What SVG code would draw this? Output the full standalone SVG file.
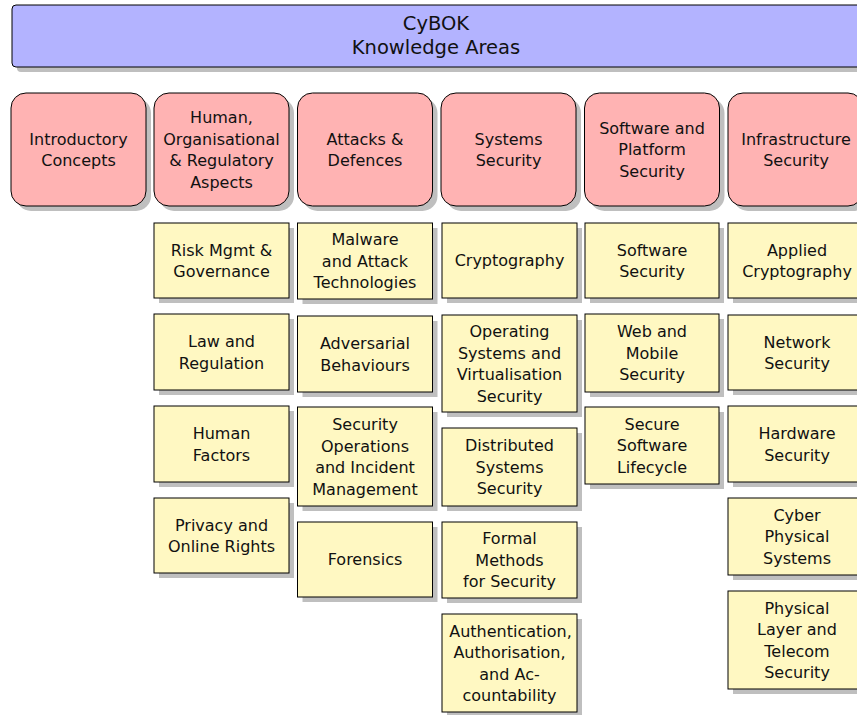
<svg xmlns="http://www.w3.org/2000/svg" width="857" height="715" viewBox="0 0 857 715">
<style>
  .shadow { fill: #bfbfbf; }
  .hdr { fill: #b3b3ff; stroke: #000; stroke-width: 1; }
  .ka { fill: #ffb3b3; stroke: #000; stroke-width: 1; }
  .sub { fill: #fff8c2; stroke: #000; stroke-width: 1; }
  text { font-family: "DejaVu Sans", "Liberation Sans", sans-serif; font-size: 16px; fill: #111; text-anchor: middle; }
  .ht { font-size: 19.5px; }
</style>
<rect width="857" height="715" fill="#fff"/>

<g id="header">
  <rect class="shadow" x="17" y="10" width="849" height="62" rx="4"/>
  <rect class="hdr" x="12" y="5" width="849" height="62" rx="4"/>
  <text class="ht" x="436" y="29.5">CyBOK</text>
  <text class="ht" x="436" y="53.5">Knowledge Areas</text>
</g>

<g id="ka-introductory">
  <rect class="shadow" x="16" y="98" width="135" height="113" rx="15"/>
  <rect class="ka" x="11" y="93" width="135" height="113" rx="15"/>
  <text x="78.5" y="144.5">Introductory</text>
  <text x="78.5" y="166">Concepts</text>
</g>
<g id="ka-human">
  <rect class="shadow" x="159" y="98" width="135" height="113" rx="15"/>
  <rect class="ka" x="154" y="93" width="135" height="113" rx="15"/>
  <text x="221.5" y="123">Human,</text>
  <text x="221.5" y="144.5">Organisational</text>
  <text x="221.5" y="166">&amp; Regulatory</text>
  <text x="221.5" y="187.5">Aspects</text>
</g>
<g id="ka-attacks">
  <rect class="shadow" x="302.5" y="98" width="135" height="113" rx="15"/>
  <rect class="ka" x="297.5" y="93" width="135" height="113" rx="15"/>
  <text x="365" y="144.5">Attacks &amp;</text>
  <text x="365" y="166">Defences</text>
</g>
<g id="ka-systems">
  <rect class="shadow" x="446" y="98" width="135" height="113" rx="15"/>
  <rect class="ka" x="441" y="93" width="135" height="113" rx="15"/>
  <text x="508.5" y="144.5">Systems</text>
  <text x="508.5" y="166">Security</text>
</g>
<g id="ka-software">
  <rect class="shadow" x="589.5" y="98" width="135" height="113" rx="15"/>
  <rect class="ka" x="584.5" y="93" width="135" height="113" rx="15"/>
  <text x="652" y="133.8">Software and</text>
  <text x="652" y="155.3">Platform</text>
  <text x="652" y="176.8">Security</text>
</g>
<g id="ka-infrastructure">
  <rect class="shadow" x="733" y="98" width="135" height="113" rx="15"/>
  <rect class="ka" x="728" y="93" width="135" height="113" rx="15"/>
  <text x="796" y="144.5">Infrastructure</text>
  <text x="796" y="166">Security</text>
</g>

<!-- Column: Human, Organisational & Regulatory Aspects -->
<g id="risk">
  <rect class="shadow" x="159" y="228" width="135" height="75"/>
  <rect class="sub" x="154" y="223" width="135" height="75"/>
  <text x="221.5" y="255.5">Risk Mgmt &amp;</text>
  <text x="221.5" y="277">Governance</text>
</g>
<g id="law">
  <rect class="shadow" x="159" y="319" width="135" height="76"/>
  <rect class="sub" x="154" y="314" width="135" height="76"/>
  <text x="221.5" y="347">Law and</text>
  <text x="221.5" y="368.5">Regulation</text>
</g>
<g id="human-factors">
  <rect class="shadow" x="159" y="411" width="135" height="76"/>
  <rect class="sub" x="154" y="406" width="135" height="76"/>
  <text x="221.5" y="439">Human</text>
  <text x="221.5" y="460.5">Factors</text>
</g>
<g id="privacy">
  <rect class="shadow" x="159" y="503" width="135" height="75"/>
  <rect class="sub" x="154" y="498" width="135" height="75"/>
  <text x="221.5" y="530.5">Privacy and</text>
  <text x="221.5" y="552">Online Rights</text>
</g>

<!-- Column: Attacks & Defences -->
<g id="malware">
  <rect class="shadow" x="302.5" y="228" width="135" height="76"/>
  <rect class="sub" x="297.5" y="223" width="135" height="76"/>
  <text x="365" y="245.3">Malware</text>
  <text x="365" y="266.8">and Attack</text>
  <text x="365" y="288.3">Technologies</text>
</g>
<g id="adversarial">
  <rect class="shadow" x="302.5" y="321" width="135" height="76"/>
  <rect class="sub" x="297.5" y="316" width="135" height="76"/>
  <text x="365" y="349">Adversarial</text>
  <text x="365" y="370.5">Behaviours</text>
</g>
<g id="secops">
  <rect class="shadow" x="302.5" y="412" width="135" height="99"/>
  <rect class="sub" x="297.5" y="407" width="135" height="99"/>
  <text x="365" y="430">Security</text>
  <text x="365" y="451.5">Operations</text>
  <text x="365" y="473">and Incident</text>
  <text x="365" y="494.5">Management</text>
</g>
<g id="forensics">
  <rect class="shadow" x="302.5" y="527" width="135" height="75"/>
  <rect class="sub" x="297.5" y="522" width="135" height="75"/>
  <text x="365" y="565.3">Forensics</text>
</g>

<!-- Column: Systems Security -->
<g id="cryptography">
  <rect class="shadow" x="447" y="228" width="135" height="75"/>
  <rect class="sub" x="442" y="223" width="135" height="75"/>
  <text x="509.5" y="266.3">Cryptography</text>
</g>
<g id="os">
  <rect class="shadow" x="447" y="320" width="135" height="97"/>
  <rect class="sub" x="442" y="315" width="135" height="97"/>
  <text x="509.5" y="337">Operating</text>
  <text x="509.5" y="358.5">Systems and</text>
  <text x="509.5" y="380">Virtualisation</text>
  <text x="509.5" y="401.5">Security</text>
</g>
<g id="distributed">
  <rect class="shadow" x="447" y="433" width="135" height="78"/>
  <rect class="sub" x="442" y="428" width="135" height="78"/>
  <text x="509.5" y="451.3">Distributed</text>
  <text x="509.5" y="472.8">Systems</text>
  <text x="509.5" y="494.3">Security</text>
</g>
<g id="formal">
  <rect class="shadow" x="447" y="527" width="135" height="76"/>
  <rect class="sub" x="442" y="522" width="135" height="76"/>
  <text x="509.5" y="544.3">Formal</text>
  <text x="509.5" y="565.8">Methods</text>
  <text x="509.5" y="587.3">for Security</text>
</g>
<g id="aaa">
  <rect class="shadow" x="447" y="619" width="135" height="98"/>
  <rect class="sub" x="442" y="614" width="135" height="98"/>
  <text x="510.5" y="636.5">Authentication,</text>
  <text x="509.5" y="658">Authorisation,</text>
  <text x="509.5" y="679.5">and Ac-</text>
  <text x="509.5" y="701">countability</text>
</g>

<!-- Column: Software and Platform Security -->
<g id="software-security">
  <rect class="shadow" x="590" y="228" width="134" height="75"/>
  <rect class="sub" x="585" y="223" width="134" height="75"/>
  <text x="652" y="255.5">Software</text>
  <text x="652" y="277">Security</text>
</g>
<g id="web-mobile">
  <rect class="shadow" x="590" y="319" width="134" height="78"/>
  <rect class="sub" x="585" y="314" width="134" height="78"/>
  <text x="652" y="337.3">Web and</text>
  <text x="652" y="358.8">Mobile</text>
  <text x="652" y="380.3">Security</text>
</g>
<g id="secure-lifecycle">
  <rect class="shadow" x="590" y="412" width="134" height="77"/>
  <rect class="sub" x="585" y="407" width="134" height="77"/>
  <text x="652" y="429.8">Secure</text>
  <text x="652" y="451.3">Software</text>
  <text x="652" y="472.8">Lifecycle</text>
</g>

<!-- Column: Infrastructure Security -->
<g id="applied-crypto">
  <rect class="shadow" x="733" y="228" width="135" height="75"/>
  <rect class="sub" x="728" y="223" width="135" height="75"/>
  <text x="797" y="255.5">Applied</text>
  <text x="797" y="277">Cryptography</text>
</g>
<g id="network">
  <rect class="shadow" x="733" y="320" width="135" height="75"/>
  <rect class="sub" x="728" y="315" width="135" height="75"/>
  <text x="797" y="347.5">Network</text>
  <text x="797" y="369">Security</text>
</g>
<g id="hardware">
  <rect class="shadow" x="733" y="411" width="135" height="76"/>
  <rect class="sub" x="728" y="406" width="135" height="76"/>
  <text x="797" y="439">Hardware</text>
  <text x="797" y="460.5">Security</text>
</g>
<g id="cps">
  <rect class="shadow" x="733" y="503" width="135" height="77"/>
  <rect class="sub" x="728" y="498" width="135" height="77"/>
  <text x="797" y="520.8">Cyber</text>
  <text x="797" y="542.3">Physical</text>
  <text x="797" y="563.8">Systems</text>
</g>
<g id="physical-layer">
  <rect class="shadow" x="733" y="596" width="135" height="98"/>
  <rect class="sub" x="728" y="591" width="135" height="98"/>
  <text x="797" y="613.5">Physical</text>
  <text x="797" y="635">Layer and</text>
  <text x="797" y="656.5">Telecom</text>
  <text x="797" y="678">Security</text>
</g>

<g id="connectors"></g>
</svg>
